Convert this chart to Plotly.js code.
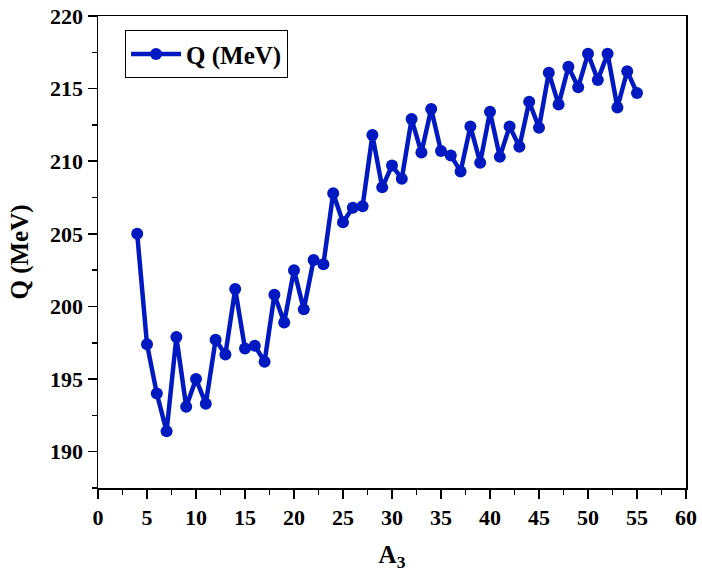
<!DOCTYPE html>
<html>
<head>
<meta charset="utf-8">
<script src="https://cdn.plot.ly/plotly-3.0.1.min.js"></script>
<style>
html,body{margin:0;padding:0;background:#fff;}
#chart{width:702px;height:579px;}
#chart .xtick text, #chart .ytick text, #chart .xtick tspan, #chart .ytick tspan { font-weight: 700 !important; }
</style>
</head>
<body>
<div id="chart"></div>
<script>
const A3 = [4,5,6,7,8,9,10,11,12,13,14,15,16,17,18,19,20,21,22,23,24,25,26,27,28,29,30,31,32,33,34,35,36,37,38,39,40,41,42,43,44,45,46,47,48,49,50,51,52,53,54,55];
const Q = [205.0,197.4,194.0,191.4,197.9,193.1,195.0,193.3,197.7,196.7,201.2,197.1,197.3,196.2,200.8,198.9,202.5,199.8,203.2,202.9,207.8,205.8,206.8,206.9,211.8,208.2,209.7,208.8,212.9,210.6,213.6,210.7,210.4,209.3,212.4,209.9,213.4,210.3,212.4,211.0,214.1,212.3,216.1,213.9,216.5,215.1,217.4,215.6,217.4,213.7,216.2,214.7];
const xTickVals = [0,5,10,15,20,25,30,35,40,45,50,55,60];
const xTickLabels = ['0','5','10','15','20','25','30','35','40','45','50','55','60'];
const yTickVals = [190,195,200,205,210,215,220];
const yTickLabels = ['190','195','200','205','210','215','220'];
const seriesName = 'Q (MeV)';
const xTitle = 'A<sub>3</sub>';
const yTitle = 'Q (MeV)';
const color = '#0019c1';
const font = 'Liberation Serif, Times New Roman, serif';

const bold = s => '<b>' + s + '</b>';
const trace = {
  x: A3, y: Q, name: bold(seriesName), type: 'scatter', mode: 'lines+markers',
  line: {color: color, width: 4.5},
  marker: {color: color, size: 12}
};
function axisCommon() {
  return {
    showgrid: false, zeroline: false, showline: true, linecolor: '#000', linewidth: 1.5,
    mirror: true, ticks: 'outside', ticklen: 9, tickwidth: 1.5, tickcolor: '#000',
    tickmode: 'array',
    tickfont: {family: font, size: 22, color: '#000', weight: 'bold'}
  };
}
const layout = {
  width: 702, height: 579,
  margin: {l: 98, r: 16, t: 16, b: 91},
  paper_bgcolor: '#fff', plot_bgcolor: '#fff',
  font: {family: font, color: '#000'},
  showlegend: true,
  legend: {x: 0.046, y: 0.97, xanchor: 'left', yanchor: 'top', bordercolor: '#000', borderwidth: 1,
           font: {family: font, size: 25, color: '#000'}, itemwidth: 50, bgcolor: '#fff'},
  xaxis: Object.assign(axisCommon(), {
    range: [0, 60], tickvals: xTickVals, ticktext: xTickLabels,
    minor: {tick0: 0, dtick: 2.5, ticks: 'outside', ticklen: 5, tickwidth: 1.5, tickcolor: '#000'},
    title: {text: bold(xTitle), font: {family: font, size: 25, color: '#000'}, standoff: 16}
  }),
  yaxis: Object.assign(axisCommon(), {
    range: [187.5, 220], tickvals: yTickVals, ticktext: yTickLabels,
    minor: {tick0: 190, dtick: 2.5, ticks: 'outside', ticklen: 5, tickwidth: 1.5, tickcolor: '#000'},
    title: {text: bold(yTitle), font: {family: font, size: 25, color: '#000'}, standoff: 14}
  })
};
Plotly.newPlot('chart', [trace], layout, {displayModeBar: false, staticPlot: true});
</script>
</body>
</html>
